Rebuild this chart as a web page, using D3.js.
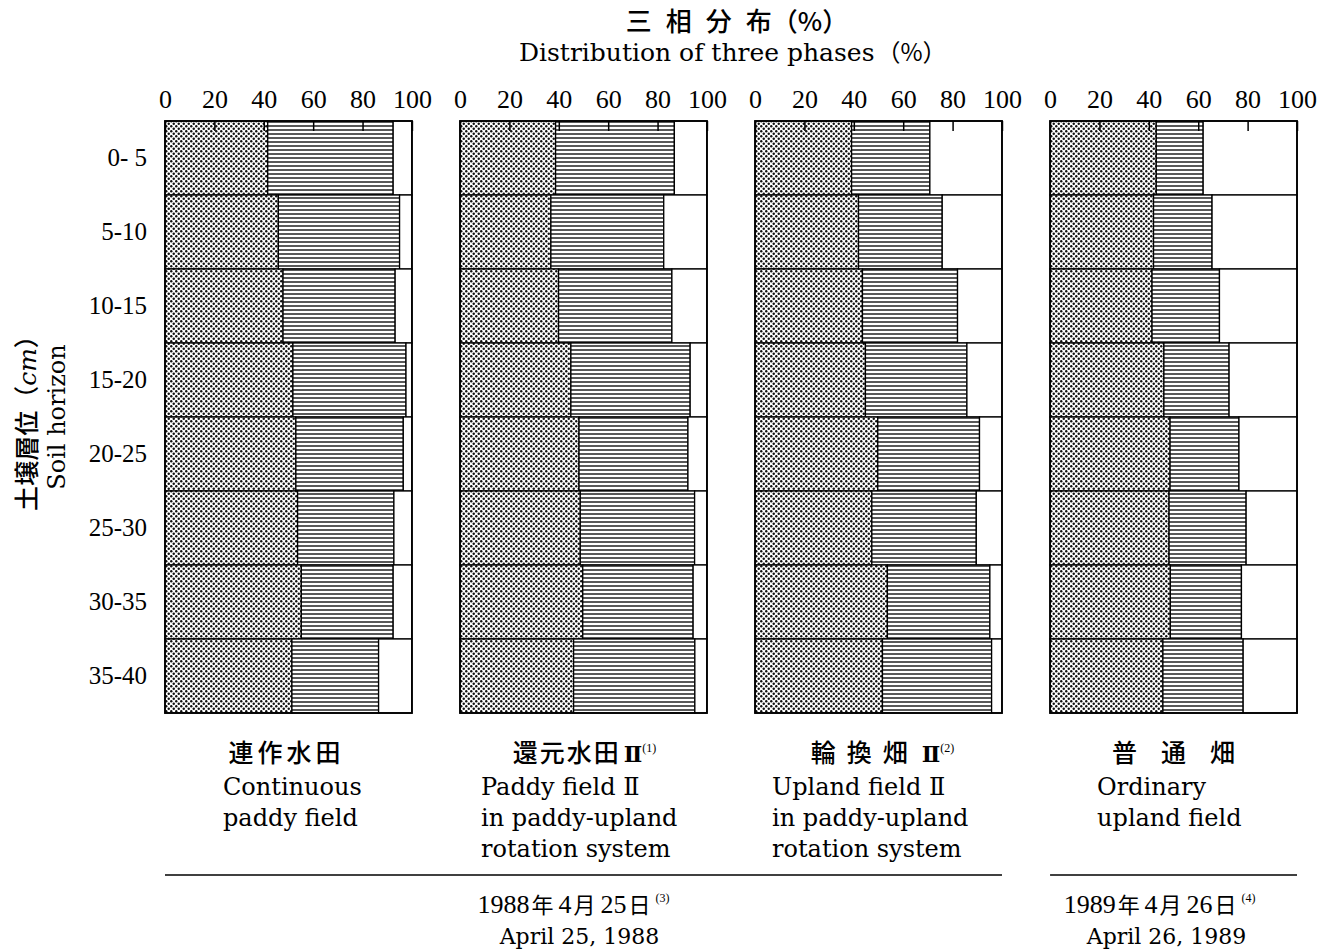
<!DOCTYPE html>
<html>
<head>
<meta charset="utf-8">
<script src="https://cdn.jsdelivr.net/npm/d3@7"></script>
<style>
  body { margin: 0; background: #fff; }
  .num { font-family: "Liberation Serif", "DejaVu Serif", serif; font-size: 26px; fill: #000; }
  .row-label { font-family: "Liberation Serif", "DejaVu Serif", serif; font-size: 25px; fill: #000; }
  .en { font-family: "DejaVu Serif", serif; font-size: 24px; fill: #000; }
  .ja { font-family: "Noto Sans CJK JP", sans-serif; font-size: 25px; font-weight: 500; fill: #000; }
</style>
</head>
<body>
<script>
// Step 1: Data (three-phase distribution, %)
// =================================
var depths = ["0- 5", "5-10", "10-15", "15-20", "20-25", "25-30", "30-35", "35-40"];
var fields = ["continuous", "paddy2", "upland2", "ordinary"];
var tickValues = [0, 20, 40, 60, 80, 100];

// solid phase and liquid phase, gas is the rest up to 100
var solidContinuous = [41.6, 45.9, 47.8, 51.8, 53.0, 53.7, 55.2, 51.4];
var liquidContinuous = [50.8, 49.1, 45.4, 45.8, 43.5, 39.0, 37.2, 35.1];
var solidPaddy2 = [38.7, 36.8, 39.9, 44.9, 48.2, 48.7, 49.7, 46.0];
var liquidPaddy2 = [48.1, 45.7, 45.9, 48.3, 44.1, 46.3, 44.7, 49.1];
var solidUpland2 = [39.1, 41.9, 43.5, 44.7, 49.7, 47.3, 53.6, 51.6];
var liquidUpland2 = [31.7, 33.9, 38.5, 41.1, 41.2, 42.3, 41.5, 44.2];
var solidOrdinary = [43.0, 41.9, 41.3, 46.1, 48.6, 48.2, 48.7, 45.7];
var liquidOrdinary = [19.0, 23.7, 27.3, 26.4, 27.9, 31.2, 28.8, 32.5];

var fieldNamesJa = ["連作水田", "還元水田", "輪換畑", "普通畑"];
var fieldNumerals = ["", "Ⅱ", "Ⅱ", ""];
var fieldNotes = ["", "(1)", "(2)", ""];
var fieldNamesEn = [
  ["Continuous", "paddy field"],
  ["Paddy field Ⅱ", "in paddy-upland", "rotation system"],
  ["Upland field Ⅱ", "in paddy-upland", "rotation system"],
  ["Ordinary", "upland field"]
];
var dateGroups = [
  { from: "continuous", to: "upland2", ja: "1988年4月25日", note: "(3)", en: "April 25, 1988" },
  { from: "ordinary", to: "ordinary", ja: "1989年4月26日", note: "(4)", en: "April 26, 1989" }
];

var solids = [solidContinuous, solidPaddy2, solidUpland2, solidOrdinary];
var liquids = [liquidContinuous, liquidPaddy2, liquidUpland2, liquidOrdinary];

// Step 2: SVG and scales
// =================================
var svgWidth = 1332;
var svgHeight = 950;

var svg = d3.select("body")
  .append("svg")
  .attr("width", svgWidth)
  .attr("height", svgHeight);

var panelScale = d3.scaleBand()
  .domain(fields)
  .range([165, 1297])
  .paddingInner(0.163);

var yScale = d3.scaleBand()
  .domain(depths)
  .range([121, 713]);

// patterns: dots for solid, horizontal lines for liquid
var defs = svg.append("defs");
var dots = defs.append("pattern")
  .attr("id", "dots")
  .attr("patternUnits", "userSpaceOnUse")
  .attr("width", 5)
  .attr("height", 5);
dots.append("rect").attr("width", 5).attr("height", 5).attr("fill", "#fff");
dots.append("circle").attr("cx", 1.25).attr("cy", 1.25).attr("r", 1.2).attr("fill", "#111");
dots.append("circle").attr("cx", 3.75).attr("cy", 3.75).attr("r", 1.2).attr("fill", "#111");

var hlines = defs.append("pattern")
  .attr("id", "hlines")
  .attr("patternUnits", "userSpaceOnUse")
  .attr("width", 8)
  .attr("height", 4);
hlines.append("rect").attr("width", 8).attr("height", 4).attr("fill", "#fff");
hlines.append("rect").attr("y", 1.3).attr("width", 8).attr("height", 1.4).attr("fill", "#111");

// Step 3: one panel per field
// =================================
fields.forEach(function(field, fi) {
  var x0 = panelScale(field);
  var xScale = d3.scaleLinear()
    .domain([0, 100])
    .range([x0, x0 + panelScale.bandwidth()]);

  var rows = depths.map(function(d, i) {
    var s = solids[fi][i];
    var l = liquids[fi][i];
    return [
      { depth: d, start: 0, end: s, fill: "url(#dots)" },
      { depth: d, start: s, end: s + l, fill: "url(#hlines)" },
      { depth: d, start: s + l, end: 100, fill: "#fff" }
    ];
  });

  var panel = svg.append("g").attr("class", "panel");

  panel.selectAll("g.row")
    .data(rows)
    .enter()
    .append("g")
    .attr("class", "row")
    .selectAll("rect")
    .data(function(d) { return d; })
    .enter()
    .append("rect")
    .attr("x", function(d) { return xScale(d.start); })
    .attr("y", function(d) { return yScale(d.depth); })
    .attr("width", function(d) { return xScale(d.end) - xScale(d.start); })
    .attr("height", yScale.bandwidth())
    .attr("fill", function(d) { return d.fill; })
    .attr("stroke", "#000")
    .attr("stroke-width", 1.3);

  // outer frame
  panel.append("rect")
    .attr("x", xScale(0))
    .attr("y", yScale.range()[0])
    .attr("width", xScale(100) - xScale(0))
    .attr("height", yScale.range()[1] - yScale.range()[0])
    .attr("fill", "none")
    .attr("stroke", "#000")
    .attr("stroke-width", 1.8);

  // top axis with short inner ticks
  var topAxis = d3.axisTop(xScale)
    .tickValues(tickValues)
    .tickSizeInner(-10)
    .tickSizeOuter(0)
    .tickPadding(13);

  var ax = panel.append("g")
    .attr("transform", `translate(0, ${yScale.range()[0]})`)
    .call(topAxis);
  ax.select(".domain").remove();
  ax.selectAll(".tick line").attr("stroke", "#000").attr("stroke-width", 1.5);
  ax.selectAll(".tick text")
    .attr("class", "num")
    .attr("font-family", null)
    .attr("font-size", null)
    .attr("fill", null);
});

// depth labels on the left
var leftAxis = d3.axisLeft(yScale).tickSize(0).tickPadding(18);
var lax = svg.append("g")
  .attr("transform", `translate(${panelScale(fields[0])}, 0)`)
  .call(leftAxis);
lax.select(".domain").remove();
lax.selectAll(".tick text")
  .attr("class", "row-label")
  .attr("font-family", null)
  .attr("font-size", null)
  .attr("fill", null)
  .style("white-space", "pre");

// Step 4: titles
// =================================
var title = svg.append("text")
  .attr("class", "ja")
  .attr("x", 737)
  .attr("y", 31)
  .style("font-size", "26px")
  .attr("text-anchor", "middle");
title.append("tspan").attr("letter-spacing", 14).text("三相分");
title.append("tspan").text("布（%）");

var sub = svg.append("text")
  .attr("class", "en")
  .attr("x", 519)
  .attr("y", 61)
  .style("font-size", "25px");
sub.append("tspan").text("Distribution of three phases");
sub.append("tspan")
  .style("font-family", "'Noto Sans CJK JP'")
  .style("font-size", "24px")
  .attr("dx", 2)
  .text("（%）");

// rotated y axis label
var yMid = (yScale.range()[0] + yScale.range()[1]) / 2;
var yl = svg.append("text")
  .attr("class", "ja")
  .attr("transform", `translate(36, ${yMid}) rotate(-90)`)
  .attr("text-anchor", "middle");
yl.append("tspan").text("土壌層位（");
yl.append("tspan")
  .style("font-family", "'DejaVu Serif'")
  .style("font-style", "italic")
  .text("cm");
yl.append("tspan").text("）");

svg.append("text")
  .attr("class", "en")
  .attr("transform", `translate(65, ${yMid}) rotate(-90)`)
  .attr("text-anchor", "middle")
  .text("Soil horizon");

// field names under each panel
var jaShift = [-2, 1, 4, 12];
var jaSpacing = [4, 2, 11, 24];
var enLeft = [58, 21, 17, 47];

fields.forEach(function(field, fi) {
  var x0 = panelScale(field);
  var cx = x0 + panelScale.bandwidth() / 2 + jaShift[fi];
  var t = svg.append("text")
    .attr("class", "ja")
    .attr("x", cx)
    .attr("y", 762)
    .attr("text-anchor", "middle");
  t.append("tspan")
    .attr("letter-spacing", jaSpacing[fi])
    .text(fieldNamesJa[fi]);
  if (fieldNumerals[fi]) {
    t.append("tspan")
      .style("font-family", "'DejaVu Serif'")
      .style("font-weight", "bold")
      .style("font-size", "22px")
      .attr("dx", 3)
      .text(fieldNumerals[fi]);
  }
  if (fieldNotes[fi]) {
    t.append("tspan")
      .style("font-family", "'Liberation Serif'")
      .style("font-size", "12px")
      .attr("dy", -10)
      .text(fieldNotes[fi]);
  }

  svg.selectAll(null)
    .data(fieldNamesEn[fi])
    .enter()
    .append("text")
    .attr("class", "en")
    .attr("x", x0 + enLeft[fi])
    .attr("y", function(d, i) { return 795 + i * 31; })
    .text(function(d) { return d; });
});

// date rules and dates
var dateShift = [-10, -14];
var enDateShift = [-4, -7];

dateGroups.forEach(function(g, gi) {
  var x1 = panelScale(g.from);
  var x2 = panelScale(g.to) + panelScale.bandwidth();
  svg.append("line")
    .attr("x1", x1)
    .attr("x2", x2)
    .attr("y1", 875)
    .attr("y2", 875)
    .attr("stroke", "#000")
    .attr("stroke-width", 1.5);

  var mid = (x1 + x2) / 2;
  var dt = svg.append("text")
    .attr("x", mid + dateShift[gi])
    .attr("y", 913)
    .attr("text-anchor", "middle");
  // split digits and CJK characters into tspans
  g.ja.split(/(\d+)/).filter(function(s) { return s.length; }).forEach(function(s) {
    var isNum = /\d/.test(s);
    dt.append("tspan")
      .attr("font-family", isNum ? "Liberation Serif" : "Noto Sans CJK JP")
      .attr("font-size", isNum ? 26 : 22)
      .attr("dx", isNum ? 0 : 2)
      .text(isNum ? s : s + " ");
  });
  dt.append("tspan")
    .attr("font-family", "Liberation Serif")
    .attr("font-size", 12)
    .attr("dy", -11)
    .text(g.note);

  svg.append("text")
    .attr("class", "en")
    .style("font-size", "22px")
    .attr("x", mid + enDateShift[gi])
    .attr("y", 944)
    .attr("text-anchor", "middle")
    .text(g.en);
});
</script>
</body>
</html>
